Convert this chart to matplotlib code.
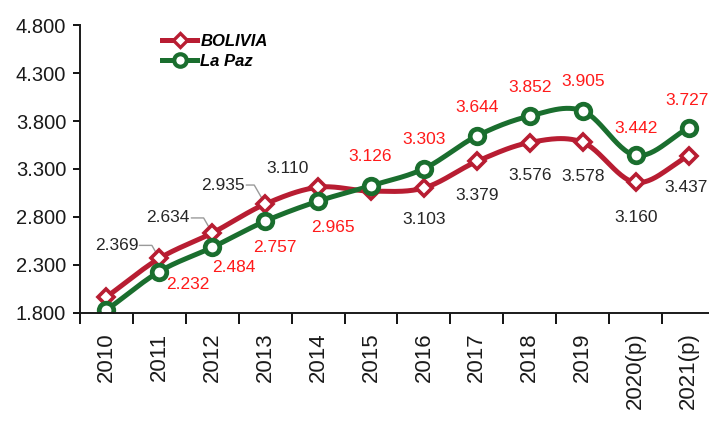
import numpy as np
import matplotlib
matplotlib.use("Agg")
import matplotlib.pyplot as plt
from matplotlib.lines import Line2D

# data
years = ["2010", "2011", "2012", "2013", "2014", "2015", "2016",
         "2017", "2018", "2019", "2020(p)", "2021(p)"]
bolivia = [1.967, 2.369, 2.634, 2.935, 3.110, 3.070, 3.103,
           3.379, 3.576, 3.578, 3.160, 3.437]
lapaz = [1.830, 2.232, 2.484, 2.757, 2.965, 3.126, 3.303,
         3.644, 3.852, 3.905, 3.442, 3.727]
bolivia_labels = [None, "2.369", "2.634", "2.935", "3.110", None, "3.103",
                  "3.379", "3.576", "3.578", "3.160", "3.437"]
lapaz_labels = [None, "2.232", "2.484", "2.757", "2.965", "3.126", "3.303",
                "3.644", "3.852", "3.905", "3.442", "3.727"]

# label offsets in pixels (text centre relative to marker)
bol_off = [None, (-43, 13), (-44, 15), (-42, 19), (-31, 19), None, (0, -32),
           (0, -34), (0, -33), (0, -34), (0, -35), (-2, -32)]
lp_off = [None, (28, -13), (22, -20), (10, -26), (15, -26), (-1, 29), (0, 29),
          (0, 28), (0, 29), (0, 29), (0, 27), (-1, 28)]
leader = [1, 2, 3]

RED = "#B81D32"
GREEN = "#1A6E2E"


def smooth(x, y, n=30):
    # catmull-rom curve through the points (like excel smoothed lines)
    x = np.asarray(x, float)
    y = np.asarray(y, float)
    px = np.concatenate([[2 * x[0] - x[1]], x, [2 * x[-1] - x[-2]]])
    py = np.concatenate([[2 * y[0] - y[1]], y, [2 * y[-1] - y[-2]]])
    xs, ys = [], []
    t = np.linspace(0, 1, n)
    for i in range(1, len(px) - 2):
        for p, out in ((px, xs), (py, ys)):
            p0, p1, p2, p3 = p[i - 1], p[i], p[i + 1], p[i + 2]
            out.append(0.5 * ((2 * p1) + (-p0 + p2) * t
                              + (2 * p0 - 5 * p1 + 4 * p2 - p3) * t ** 2
                              + (-p0 + 3 * p1 - 3 * p2 + p3) * t ** 3))
    return np.concatenate(xs), np.concatenate(ys)


plt.rcParams['font.family'] = ['Liberation Sans', 'DejaVu Sans']

fig = plt.figure(figsize=(7.09, 4.25), dpi=100)
ax = fig.add_axes([80 / 709, 112 / 425, 635 / 709, 288 / 425])

x = np.arange(len(years))

sx, sy = smooth(x, bolivia)
ax.plot(sx, sy, color=RED, lw=3.6, solid_capstyle='round', zorder=3)
ax.plot(x, bolivia, ls='none', marker='D', ms=8, mfc='white', mec=RED, mew=2.6, zorder=4)

sx, sy = smooth(x, lapaz)
ax.plot(sx, sy, color=GREEN, lw=3.6, solid_capstyle='round', zorder=3)
ax.plot(x, lapaz, ls='none', marker='o', ms=10.5, mfc='white', mec=GREEN, mew=3.4, zorder=5)

# data labels
for i, lab in enumerate(bolivia_labels):
    if lab is None:
        continue
    dx, dy = bol_off[i]
    ax.annotate(lab, (x[i], bolivia[i]), xytext=(dx, dy), textcoords='offset pixels',
                ha='center', va='center', fontsize=12.5, color='#262626', zorder=6)
    if i in leader:
        ax.annotate("", (x[i], bolivia[i]), xytext=(dx + 23, dy),
                    textcoords='offset pixels', xycoords='data',
                    arrowprops=dict(arrowstyle='-', color='#9a9a9a', lw=1.0,
                                    shrinkA=0, shrinkB=4,
                                    connectionstyle="angle,angleA=0,angleB=120,rad=0"))

for i, lab in enumerate(lapaz_labels):
    if lab is None:
        continue
    dx, dy = lp_off[i]
    ax.annotate(lab, (x[i], lapaz[i]), xytext=(dx, dy), textcoords='offset pixels',
                ha='center', va='center', fontsize=12.5, color='#FF1A1A', zorder=6)

# axes
ax.set_xlim(-0.5, len(years) - 0.5)
ax.set_ylim(1.8, 4.8)
ax.set_yticks(np.arange(1.8, 4.81, 0.5))
ax.set_yticklabels([f"{v:.3f}" for v in np.arange(1.8, 4.81, 0.5)],
                   fontsize=14.5, color='#1a1a1a')
ax.set_xticks(x)
ax.set_xticklabels(years, rotation=90, fontsize=16, color='#1a1a1a')
ax.set_xticks(np.arange(-0.5, len(years) - 0.4, 1), minor=True)
ax.tick_params(axis='x', which='major', length=0, pad=14)
ax.tick_params(axis='x', which='minor', length=8, width=1.3, direction='out')
ax.tick_params(axis='y', length=5, width=1.3, direction='out', pad=5)

for s in ('top', 'right'):
    ax.spines[s].set_visible(False)
for s in ('left', 'bottom'):
    ax.spines[s].set_linewidth(1.4)
    ax.spines[s].set_color('#1a1a1a')
ax.spines['left'].set_zorder(7)
ax.spines['bottom'].set_zorder(7)

# legend
handles = [
    Line2D([], [], color=RED, lw=3.6, marker='D', ms=7, mfc='white', mec=RED, mew=2.4),
    Line2D([], [], color=GREEN, lw=3.6, marker='o', ms=9, mfc='white', mec=GREEN, mew=3.0),
]
leg = fig.legend(handles, ["BOLIVIA", "La Paz"], loc='upper left',
                 bbox_to_anchor=(162 / 709, 1 - 34 / 425), frameon=False,
                 prop=dict(size=12, weight='bold', style='italic'),
                 handlelength=2.1, handletextpad=0.2, labelspacing=0.3,
                 borderpad=0, borderaxespad=0)

fig.savefig("out.png", dpi=100)
